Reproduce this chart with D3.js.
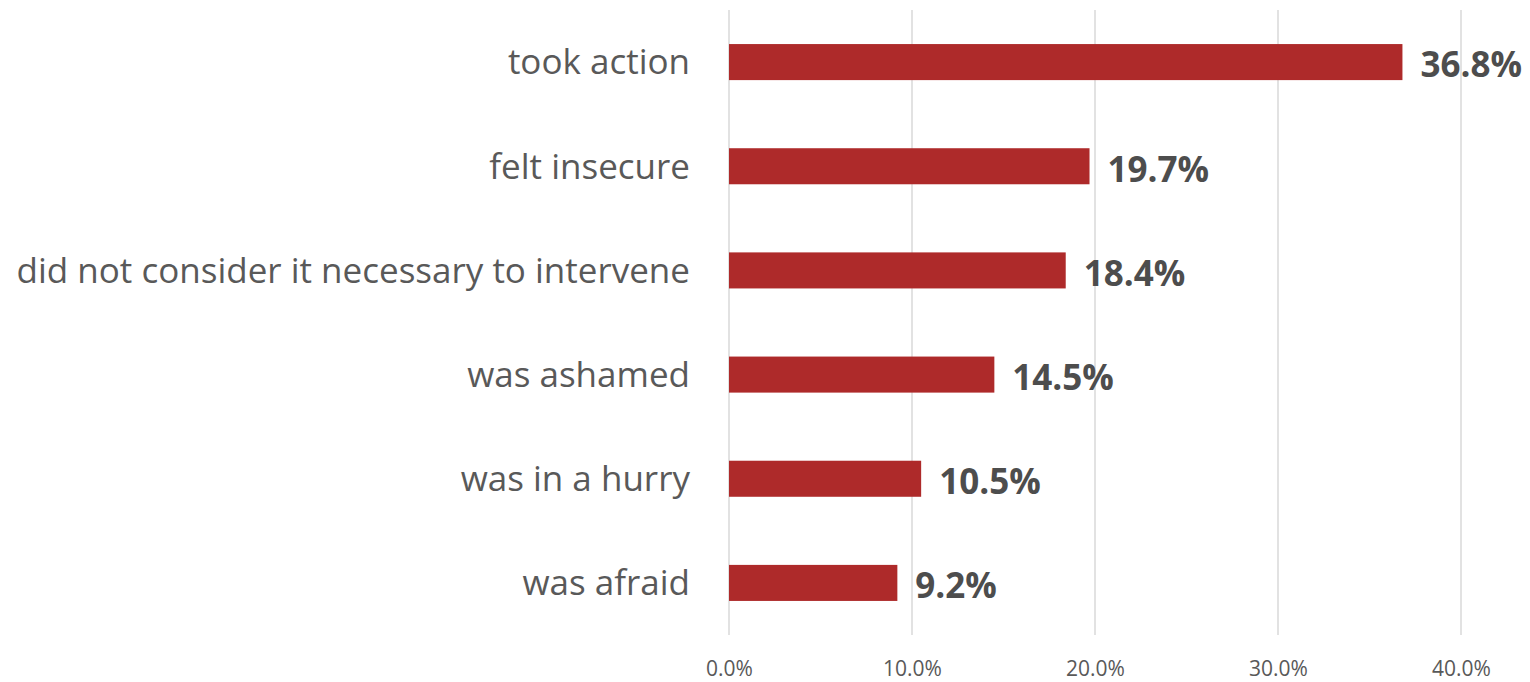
<!DOCTYPE html>
<html>
<head>
<meta charset="utf-8">
<script src="https://cdn.jsdelivr.net/npm/d3@7"></script>
<style>
  body { margin: 0; background: #fff; }
  text { font-family: "Open Sans", "Noto Sans", sans-serif; }
</style>
</head>
<body>
<script>
// Data
const categories = ["took action", "felt insecure", "did not consider it necessary to intervene",
                    "was ashamed", "was in a hurry", "was afraid"];
const values = [36.8, 19.7, 18.4, 14.5, 10.5, 9.2];
const tickValues = [0, 10, 20, 30, 40];

let width = 1530, height = 682;
let margin = { top: 10, bottom: 47, left: 729, right: 69 };

let svg = d3.select('body')
    .append('svg')
    .attr('width', width)
    .attr('height', height);

// Scales
let xScale = d3.scaleLinear()
    .domain([0, 40])
    .range([margin.left, width - margin.right]);

let yScale = d3.scaleBand()
    .domain(categories)
    .range([margin.top, height - margin.bottom])
    .paddingInner(0.654)
    .paddingOuter(0.327);

// Gridlines
svg.append('g')
    .selectAll('line')
    .data(tickValues)
    .enter()
    .append('line')
    .attr('x1', d => xScale(d))
    .attr('x2', d => xScale(d))
    .attr('y1', margin.top)
    .attr('y2', height - margin.bottom)
    .attr('stroke', '#d9d9d9')
    .attr('stroke-width', 1.5);

// X axis tick labels
let xAxis = svg.append('g')
    .attr('transform', `translate(0, ${height - 6})`)
    .call(d3.axisBottom(xScale).tickValues(tickValues).tickSize(0).tickFormat(d => d.toFixed(1) + '%'));
xAxis.select('.domain').remove();
xAxis.selectAll('text')
    .attr('y', 0)
    .attr('dy', 0)
    .style('font-size', '21px')
    .style('fill', '#595959');

// Bars
svg.selectAll('rect.bar')
    .data(values)
    .enter()
    .append('rect')
    .attr('class', 'bar')
    .attr('x', xScale(0))
    .attr('y', (d, i) => yScale(categories[i]))
    .attr('width', d => xScale(d) - xScale(0))
    .attr('height', yScale.bandwidth())
    .attr('fill', '#ae2a2a');

// Category labels
svg.selectAll('text.cat')
    .data(categories)
    .enter()
    .append('text')
    .attr('class', 'cat')
    .attr('x', 690)
    .attr('y', d => yScale(d) + yScale.bandwidth() / 2)
    .attr('dy', '0.35em')
    .attr('text-anchor', 'end')
    .style('font-size', '35px')
    .style('fill', '#595959')
    .text(d => d);

// Value labels
svg.selectAll('text.val')
    .data(values)
    .enter()
    .append('text')
    .attr('class', 'val')
    .attr('x', d => xScale(d) + 18)
    .attr('y', (d, i) => yScale(categories[i]) + yScale.bandwidth() / 2 + 3)
    .attr('dy', '0.35em')
    .style('font-size', '35px')
    .style('font-weight', 'bold')
    .style('fill', '#4d4d4d')
    .text(d => d.toFixed(1) + '%');
</script>
</body>
</html>
